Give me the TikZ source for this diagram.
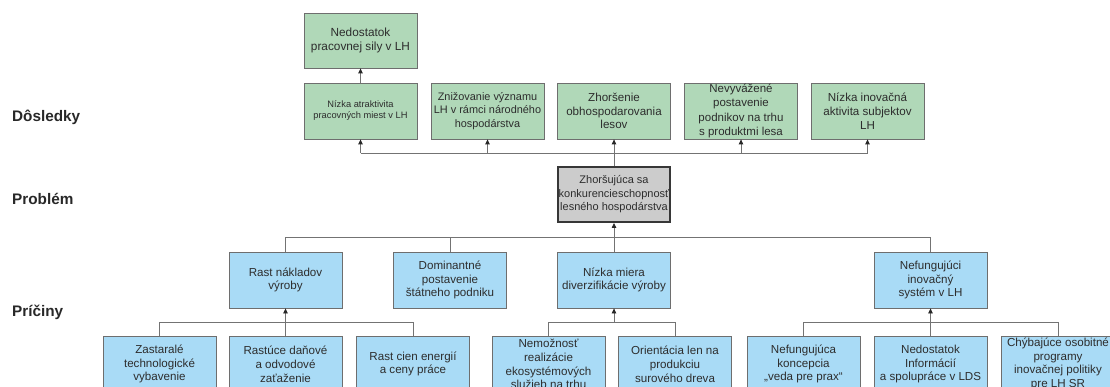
\documentclass[tikz,border=0pt]{standalone}
\usepackage{fontspec}
\setmainfont{Liberation Sans}
\usetikzlibrary{arrows.meta}

\definecolor{effgreen}{RGB}{176,216,184}
\definecolor{causeblue}{RGB}{169,219,246}
\definecolor{probgray}{RGB}{204,204,204}
\definecolor{probline}{RGB}{55,55,55}
\definecolor{boxline}{RGB}{110,110,110}
\definecolor{linkgray}{RGB}{115,115,115}
\definecolor{tipdark}{RGB}{40,40,40}
\definecolor{txt}{RGB}{45,45,45}
\definecolor{labeltxt}{RGB}{40,40,40}

\begin{document}
\begin{tikzpicture}[x=1pt,y=-1pt,
  box/.style={draw=boxline, line width=0.8pt, minimum width=113pt, minimum height=56pt,
              inner sep=0pt, align=center, text=txt,
              font=\fontsize{11.6}{13.8}\selectfont},
  effect/.style={box, fill=effgreen},
  cause/.style={box, fill=causeblue},
  problembox/.style={box, fill=probgray, draw=probline, line width=2pt,
                     minimum width=112pt, minimum height=55pt,
                     font=\fontsize{11}{13.5}\selectfont},
  link/.style={draw=linkgray, line width=0.8pt},
  arrowlink/.style={link, -{Triangle[length=5pt,width=4.5pt,color=tipdark]}},
  rowlabel/.style={anchor=west, inner sep=0pt, text=labeltxt,
                   font=\fontsize{15.3}{18}\selectfont\bfseries}
]
\useasboundingbox (0,0) rectangle (1110,387);
\clip (0,0) rectangle (1110,387);

% row labels
\node[rowlabel] (lblD) at (12,117) {Dôsledky};
\node[rowlabel] (lblP) at (12,199) {Problém};
\node[rowlabel] (lblC) at (12,312) {Príčiny};

% consequences
\node[effect, minimum height=55pt, font=\fontsize{11.8}{14.8}\selectfont] (t1) at (360.5,40.5)
  {Nedostatok\\pracovnej sily v LH};
\node[effect, font=\fontsize{9.3}{11}\selectfont] (c1) at (360.5,111)
  {Nízka atraktivita\\pracovných miest v LH};
\node[effect, font=\fontsize{10.9}{13.4}\selectfont] (c2) at (487.5,111)
  {Znižovanie významu\\LH v rámci národného\\hospodárstva};
\node[effect] (c3) at (614,111) {Zhoršenie\\obhospodarovania\\lesov};
\node[effect, font=\fontsize{11.5}{14.2}\selectfont] (c4) at (741,111)
  {Nevyvážené\\postavenie\\podnikov na trhu\\s produktmi lesa};
\node[effect] (c5) at (867.5,111) {Nízka inovačná\\aktivita subjektov\\LH};

% problem
\node[problembox] (P) at (614,194.5)
  {Zhoršujúca sa\\konkurencieschopnosť\\lesného hospodárstva};

% main causes
\node[cause] (r1) at (285.5,280) {Rast nákladov\\výroby};
\node[cause] (r2) at (450,280) {Dominantné\\postavenie\\štátneho podniku};
\node[cause] (r3) at (614,280) {Nízka miera\\diverzifikácie výroby};
\node[cause] (r4) at (930.5,280) {Nefungujúci\\inovačný\\systém v LH};

% sub-causes
\node[cause] (b1) at (159.5,364) {Zastaralé\\technologické\\vybavenie};
\node[cause] (b2) at (285.5,364) {Rastúce daňové\\a odvodové\\zaťaženie};
\node[cause] (b3) at (413,364) {Rast cien energií\\a ceny práce};
\node[cause] (b4) at (548.5,364) {Nemožnosť\\realizácie\\ekosystémových\\služieb na trhu};
\node[cause] (b5) at (675,364) {Orientácia len na\\produkciu\\surového dreva};
\node[cause] (b6) at (803.5,364) {Nefungujúca\\koncepcia\\„veda pre prax“};
\node[cause] (b7) at (930.5,364) {Nedostatok\\Informácií\\a spolupráce v LDS};
\node[cause] (b8) at (1058,364) {Chýbajúce osobitné\\programy\\inovačnej politiky\\pre LH SR};

% bus levels
\coordinate (busT) at (0,153);
\coordinate (busM) at (0,237);
\coordinate (busB) at (0,322);

% problem -> consequences
\draw[arrowlink] (c1.north) -- (t1.south);
\draw[link] (c1.south |- busT) -- (c5.south |- busT);
\draw[link] (P.north) -- (P.north |- busT);
\foreach \n in {c1,c2,c3,c4,c5}
  \draw[arrowlink] (\n.south |- busT) -- (\n.south);

% main causes -> problem
\draw[link] (r1.north) -- (r1.north |- busM) -- (r4.north |- busM) -- (r4.north);
\draw[link] (r2.north) -- (r2.north |- busM);
\draw[arrowlink] (r3.north) -- (P.south);

% sub-causes -> main causes
\draw[link] (b1.north) -- (b1.north |- busB) -- (b3.north |- busB) -- (b3.north);
\draw[arrowlink] (b2.north) -- (r1.south);
\draw[link] (b4.north) -- (b4.north |- busB) -- (b5.north |- busB) -- (b5.north);
\draw[arrowlink] (r3.south |- busB) -- (r3.south);
\draw[link] (b6.north) -- (b6.north |- busB) -- (b8.north |- busB) -- (b8.north);
\draw[arrowlink] (b7.north) -- (r4.south);
\end{tikzpicture}
\end{document}
